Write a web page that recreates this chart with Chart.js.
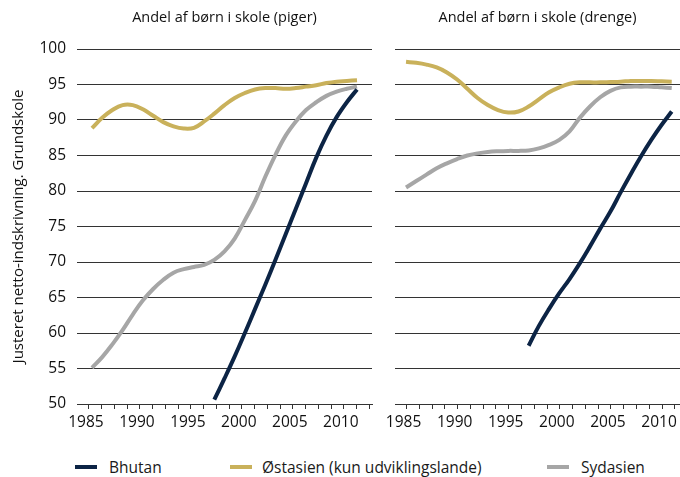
<!DOCTYPE html>
<html>
<head>
<meta charset="utf-8">
<script src="https://cdn.jsdelivr.net/npm/chart.js@4.4.1/dist/chart.umd.min.js"></script>
<style>
  html, body { margin: 0; padding: 0; background: #ffffff; }
  #wrap { position: relative; width: 680px; height: 477px; overflow: hidden; font-family: 'Open Sans', sans-serif; color: #1a1a1a; }
  #c1 { position: absolute; left: 0; top: 0; }
  #c2 { position: absolute; left: 380px; top: 0; }
  .leg { position: absolute; top: 456px; height: 22px; display: flex; align-items: center; font-size: 15.5px; white-space: nowrap; }
  .sw { display: inline-block; width: 22px; height: 4px; }
</style>
</head>
<body>
<div id="wrap">
  <canvas id="c1" width="380" height="440"></canvas>
  <canvas id="c2" width="300" height="440"></canvas>
  <div class="leg" id="leg0" style="left:75px"><span class="sw"></span><span class="lt" style="margin-left:12px"></span></div>
  <div class="leg" id="leg1" style="left:230px"><span class="sw"></span><span class="lt" style="margin-left:10px"></span></div>
  <div class="leg" id="leg2" style="left:547px"><span class="sw"></span><span class="lt" style="margin-left:12px"></span></div>
</div>
<script>
// ---------- data ----------
const panelTitles = ['Andel af børn i skole (piger)', 'Andel af børn i skole (drenge)'];
const yTitle = 'Justeret netto-indskrivning. Grundskole';
const seriesNames = ['Bhutan', 'Østasien (kun udviklingslande)', 'Sydasien'];
const xLabelYears = ['1985', '1990', '1995', '2000', '2005', '2010'];
const yTickValues = [50, 55, 60, 65, 70, 75, 80, 85, 90, 95, 100];

const years = [1985, 1986, 1987, 1988, 1989, 1990, 1991, 1992, 1993, 1994, 1995, 1996, 1997, 1998,
               1999, 2000, 2001, 2002, 2003, 2004, 2005, 2006, 2007, 2008, 2009, 2010, 2011];
const bhutanYears = [1997, 1998, 1999, 2000, 2001, 2002, 2003, 2004, 2005, 2006, 2007, 2008, 2009, 2010, 2011];

// Piger (girls)
const bhutanGirls = [50.6, 53.6, 56.7, 60.0, 63.4, 66.8, 70.3, 73.9, 77.5, 81.1, 84.7, 87.8, 90.4, 92.5, 94.3];
const eastAsiaGirls = [88.85, 90.3, 91.4, 92.1, 92.1, 91.5, 90.6, 89.7, 89.1, 88.8, 88.9, 89.8, 90.9, 92.1,
                       93.1, 93.8, 94.3, 94.5, 94.5, 94.4, 94.5, 94.7, 94.9, 95.2, 95.4, 95.5, 95.6];
const southAsiaGirls = [55.1, 56.6, 58.4, 60.4, 62.6, 64.6, 66.2, 67.5, 68.5, 69.0, 69.3, 69.6, 70.3, 71.5,
                        73.3, 75.9, 78.6, 82.0, 85.1, 87.8, 89.8, 91.4, 92.5, 93.4, 94.0, 94.4, 94.7];

// Drenge (boys)
const bhutanBoys = [58.2, 61.0, 63.4, 65.6, 67.6, 69.8, 72.2, 74.7, 77.1, 79.8, 82.4, 84.9, 87.2, 89.3, 91.2];
const eastAsiaBoys = [98.2, 98.05, 97.8, 97.4, 96.7, 95.7, 94.4, 93.1, 92.1, 91.4, 91.05, 91.2, 91.9, 92.9,
                      93.9, 94.6, 95.1, 95.3, 95.3, 95.3, 95.35, 95.4, 95.5, 95.5, 95.5, 95.45, 95.4];
const southAsiaBoys = [80.5, 81.4, 82.3, 83.2, 83.9, 84.5, 85.0, 85.3, 85.5, 85.6, 85.65, 85.65, 85.7, 86.0,
                       86.5, 87.2, 88.4, 90.3, 91.9, 93.2, 94.1, 94.6, 94.7, 94.7, 94.7, 94.6, 94.5];

// ---------- styles ----------
const colors = ['#0c2445', '#c9b15b', '#a6a6a6'];
const gridColor = '#333333';
const textColor = '#111111';
const fontFamily = "'Open Sans', sans-serif";

function pts(xs, ys) { return xs.map((x, i) => ({ x: x, y: ys[i] })); }

function makeDatasets(b, e, s) {
  const sets = [pts(bhutanYears, b), pts(years, e), pts(years, s)];
  return sets.map((d, i) => ({
    label: seriesNames[i],
    data: d,
    borderColor: colors[i],
    backgroundColor: colors[i],
    borderWidth: 4,
    pointRadius: 0,
    pointHoverRadius: 0,
    tension: 0.4,
    fill: false
  }));
}

function minorTicks(start, count) {
  const out = [];
  for (let k = 0; k < count; k++) out.push(start + 1.25 * k);
  return out;
}

function makeChart(canvasId, title, datasets, opts) {
  const xTicks = minorTicks(opts.tickStart, opts.tickCount);
  return new Chart(document.getElementById(canvasId), {
    type: 'line',
    data: { datasets: datasets },
    options: {
      responsive: false,
      animation: false,
      events: [],
      layout: { padding: opts.padding },
      plugins: {
        legend: { display: false },
        tooltip: { enabled: false },
        title: {
          display: true,
          text: title,
          fullSize: false,
          color: textColor,
          font: { family: fontFamily, size: 14.5, weight: 'normal' },
          padding: { top: 9, bottom: 22.6 }
        }
      },
      scales: {
        x: {
          type: 'linear',
          min: opts.xMin,
          max: opts.xMax,
          afterBuildTicks: (s) => { s.ticks = xTicks.map(v => ({ value: v })); },
          afterFit: (s) => { s.height = 36; },
          ticks: {
            autoSkip: false,
            maxRotation: 0,
            minRotation: 0,
            labelOffset: -3,
            padding: 4,
            color: textColor,
            font: { family: fontFamily, size: 15.5 },
            callback: (v, i) => (i % 4 === 0 && xLabelYears[i / 4] !== undefined) ? xLabelYears[i / 4] : ''
          },
          grid: { drawOnChartArea: false, drawTicks: true, tickLength: 5, color: gridColor, lineWidth: 1 },
          border: { display: true, color: gridColor, width: 1 }
        },
        y: {
          min: 50,
          max: 100,
          afterBuildTicks: (s) => { s.ticks = yTickValues.map(v => ({ value: v })); },
          afterFit: (s) => { s.width = opts.yWidth; },
          ticks: {
            display: opts.showY,
            padding: 11,
            color: textColor,
            font: { family: fontFamily, size: 15.5 }
          },
          grid: { drawTicks: false, color: gridColor, lineWidth: 1 },
          border: { display: false },
          title: {
            display: opts.showY,
            text: yTitle,
            color: textColor,
            font: { family: fontFamily, size: 15 },
            padding: { top: 10, bottom: 0 }
          }
        }
      }
    }
  });
}

makeChart('c1', panelTitles[0], makeDatasets(bhutanGirls, eastAsiaGirls, southAsiaGirls), {
  padding: { left: 0, right: 8, top: 0, bottom: 0 },
  xMin: 1983.53, xMax: 2012.47, tickStart: 1984.7, tickCount: 23,
  yWidth: 77, showY: true
});

makeChart('c2', panelTitles[1], makeDatasets(bhutanBoys, eastAsiaBoys, southAsiaBoys), {
  padding: { left: 15, right: 0, top: 0, bottom: 0 },
  xMin: 1983.92, xMax: 2011.81, tickStart: 1985.05, tickCount: 22,
  yWidth: 0, showY: false
});

// HTML legend built from the series names and colours
seriesNames.forEach((name, i) => {
  const el = document.getElementById('leg' + i);
  el.querySelector('.sw').style.background = colors[i];
  el.querySelector('.lt').textContent = name;
});
</script>
</body>
</html>
